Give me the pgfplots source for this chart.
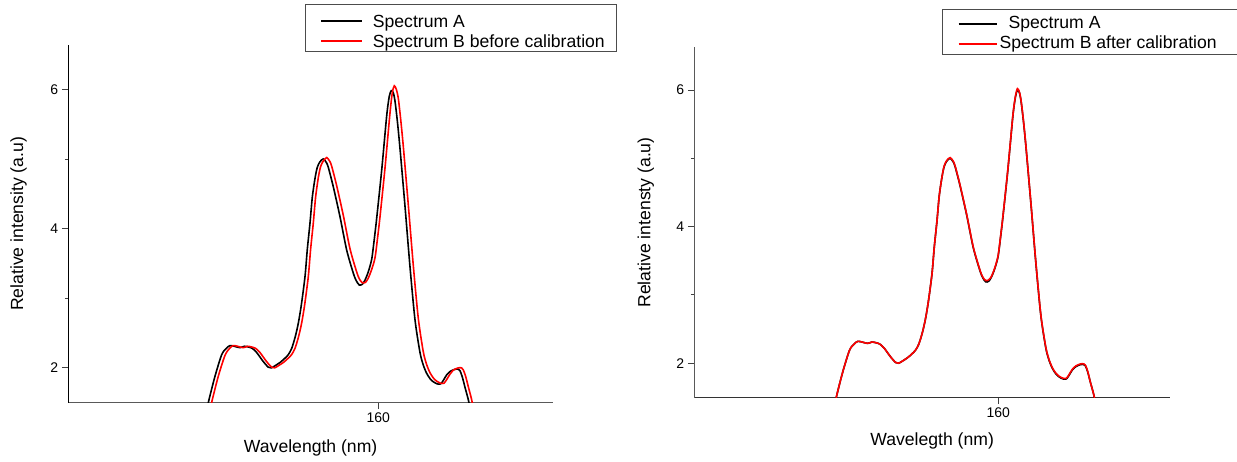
\documentclass[border=0pt]{standalone}
\usepackage{fontspec}
\setmainfont{Liberation Sans}
\usepackage{pgfplots}
\pgfplotsset{compat=1.18}

\newcommand\labelfont{\fontsize{17.6pt}{20pt}\selectfont}
\newcommand\tickfont{\fontsize{14pt}{16pt}\selectfont}

% Spectrum A (reference spectrum)
\pgfplotstableread{
x y
142.60 1.20
143.00 1.50
143.67 1.88
144.34 2.19
144.80 2.28
145.17 2.32
145.60 2.31
146.17 2.29
146.60 2.31
147.00 2.30
147.40 2.28
147.84 2.22
148.50 2.09
149.00 2.01
149.30 2.00
149.67 2.03
150.20 2.08
150.67 2.14
151.00 2.19
151.34 2.28
151.70 2.45
152.00 2.64
152.30 2.90
152.67 3.31
152.90 3.70
153.17 4.08
153.40 4.45
153.67 4.72
153.90 4.88
154.17 4.96
154.50 5.00
154.80 4.95
155.00 4.88
155.50 4.60
156.17 4.17
156.84 3.69
157.50 3.36
157.80 3.25
158.10 3.19
158.40 3.20
158.67 3.26
159.00 3.38
159.34 3.56
159.60 3.85
159.84 4.15
160.34 4.84
160.84 5.62
161.10 5.90
161.30 5.98
161.50 5.95
161.67 5.83
161.90 5.55
162.17 5.15
162.67 4.32
163.17 3.45
163.67 2.69
164.17 2.22
164.50 2.04
164.84 1.92
165.20 1.84
165.50 1.80
165.90 1.77
166.24 1.77
166.50 1.82
166.84 1.90
167.20 1.95
167.67 1.98
168.00 1.98
168.17 1.96
168.40 1.87
168.67 1.72
169.07 1.50
169.40 1.20
}\specA

% Spectrum B before calibration
\pgfplotstableread{
x y
142.90 1.20
143.33 1.50
144.00 1.88
144.67 2.18
145.13 2.28
145.50 2.32
145.93 2.31
146.50 2.29
146.93 2.31
147.33 2.30
147.73 2.28
148.17 2.22
148.83 2.09
149.33 2.01
149.63 2.00
150.00 2.03
150.53 2.08
151.00 2.14
151.33 2.19
151.67 2.28
152.03 2.45
152.33 2.64
152.63 2.90
153.00 3.31
153.23 3.70
153.50 4.08
153.73 4.45
154.00 4.73
154.23 4.89
154.50 4.97
154.84 5.02
155.13 4.97
155.33 4.90
155.83 4.62
156.50 4.19
157.17 3.71
157.83 3.38
158.13 3.27
158.43 3.22
158.73 3.23
159.00 3.29
159.33 3.41
159.67 3.58
159.93 3.87
160.17 4.17
160.67 4.87
161.17 5.66
161.40 5.95
161.60 6.05
161.80 6.00
162.00 5.87
162.23 5.58
162.50 5.18
163.00 4.34
163.50 3.47
164.00 2.71
164.50 2.23
164.83 2.05
165.17 1.93
165.53 1.85
165.83 1.81
166.23 1.78
166.57 1.78
166.83 1.83
167.17 1.91
167.53 1.97
168.00 2.00
168.33 2.00
168.50 1.97
168.73 1.88
169.00 1.73
169.40 1.50
169.70 1.20
}\specBbefore

% Spectrum A, second measurement window
\pgfplotstableread{
x y
143.23 1.20
143.63 1.50
144.30 1.88
144.97 2.19
145.43 2.28
145.80 2.32
146.23 2.31
146.80 2.29
147.23 2.31
147.63 2.30
148.03 2.28
148.47 2.22
149.13 2.09
149.63 2.01
149.93 2.00
150.30 2.03
150.83 2.08
151.30 2.14
151.63 2.19
151.97 2.28
152.33 2.45
152.63 2.64
152.93 2.90
153.30 3.31
153.53 3.70
153.80 4.08
154.03 4.45
154.30 4.72
154.53 4.88
154.80 4.96
155.13 5.00
155.43 4.95
155.63 4.88
156.13 4.60
156.80 4.17
157.47 3.69
158.13 3.36
158.43 3.25
158.73 3.19
159.03 3.20
159.30 3.26
159.63 3.38
159.97 3.56
160.23 3.85
160.47 4.15
160.97 4.84
161.47 5.62
161.73 5.90
161.93 6.00
162.13 5.96
162.30 5.83
162.53 5.55
162.80 5.15
163.30 4.32
163.80 3.45
164.30 2.69
164.80 2.22
165.13 2.04
165.47 1.92
165.83 1.84
166.13 1.80
166.53 1.77
166.87 1.77
167.13 1.82
167.47 1.90
167.83 1.95
168.30 1.98
168.63 1.98
168.80 1.96
169.03 1.87
169.30 1.72
169.70 1.50
170.00 1.20
}\specAtwo

% Spectrum B after calibration
\pgfplotstableread{
x y
143.23 1.20
143.63 1.50
144.30 1.88
144.97 2.19
145.43 2.28
145.80 2.32
146.23 2.31
146.80 2.29
147.23 2.31
147.63 2.30
148.03 2.28
148.47 2.22
149.13 2.09
149.63 2.01
149.93 2.00
150.30 2.03
150.83 2.08
151.30 2.14
151.63 2.19
151.97 2.28
152.33 2.45
152.63 2.64
152.93 2.90
153.30 3.31
153.53 3.70
153.80 4.08
154.03 4.45
154.30 4.72
154.53 4.89
154.80 4.97
155.13 5.01
155.43 4.96
155.63 4.89
156.13 4.61
156.80 4.18
157.47 3.70
158.13 3.37
158.43 3.26
158.73 3.21
159.03 3.22
159.30 3.27
159.63 3.39
159.97 3.57
160.23 3.86
160.47 4.16
160.97 4.85
161.47 5.63
161.73 5.91
161.93 6.02
162.13 5.97
162.30 5.84
162.53 5.56
162.80 5.16
163.30 4.33
163.80 3.46
164.30 2.70
164.80 2.23
165.13 2.05
165.47 1.93
165.83 1.85
166.13 1.81
166.53 1.78
166.87 1.78
167.13 1.83
167.47 1.91
167.83 1.96
168.30 1.99
168.63 1.99
168.80 1.97
169.03 1.88
169.30 1.72
169.70 1.50
170.00 1.20
}\specBafter

\pgfplotsset{
  spectrum/.style={
    scale only axis,
    axis x line*=bottom,
    axis y line*=left,
    tick align=outside,
    xtick={160},
    ytick={2,4,6},
    minor ytick={3,5},
    major tick length=6.5pt,
    minor tick length=3.5pt,
    tick style={black!75, line width=0.8pt},
    ticklabel style={font=\tickfont},
    /pgf/number format/assume math mode=true,
    label style={font=\labelfont},
    legend cell align=left,
  },
  lineA/.style={black, line width=1.6pt, smooth, tension=0.45},
  lineB/.style={red, line width=1.6pt, smooth, tension=0.45},
}

\begin{document}
\begin{tikzpicture}
\useasboundingbox (0,0) rectangle (1237pt,462pt);

% Before calibration
\begin{axis}[
  spectrum,
  at={(68.3pt,59.3pt)}, anchor=south west,
  width=484.7pt, height=357.7pt,
  xmin=129.0, xmax=177.47,
  ymin=1.5, ymax=6.636,
  x axis line style={black!65, line width=1pt},
  y axis line style={black, line width=1pt},
  xlabel={Wavelength (nm)},
  ylabel={Relative intensity (a.u)},
  xlabel style={at={(axis description cs:0.5,-0.1266)}, anchor=center},
  ylabel style={at={(axis description cs:-0.1025,0.5)}, anchor=center},
  legend style={
    at={(axis description cs:0.4884,1.1146)}, anchor=north west,
    draw=black!70, line width=0.8pt, fill=white,
    inner xsep=11.7pt, inner ysep=2pt,
    row sep=-3pt, column sep=10pt,
    nodes={inner sep=0pt, text height=20.7pt, text depth=2.3pt, font=\labelfont},
  },
]
\addplot[lineA, forget plot] table {\specA};
\addplot[lineB, forget plot] table {\specBbefore};
\addlegendimage{legend image code/.code={
  \path[draw=none] (-4pt,0pt) -- (41pt,0pt);
  \draw[black, line width=1.6pt] (0pt,-3.35pt) -- (41pt,-3.35pt);}}
\addlegendentry{Spectrum A}
\addlegendimage{legend image code/.code={
  \path[draw=none] (-4pt,0pt) -- (41pt,0pt);
  \draw[red, line width=1.6pt] (0pt,-3.35pt) -- (41pt,-3.35pt);}}
\addlegendentry{Spectrum B before calibration}
\end{axis}

% After calibration
\begin{axis}[
  spectrum,
  at={(694.3pt,64.3pt)}, anchor=south west,
  width=475.7pt, height=350.4pt,
  xmin=129.29, xmax=177.34,
  ymin=1.495, ymax=6.625,
  x axis line style={black!80, line width=1pt},
  y axis line style={black!65, line width=1pt},
  xlabel={Wavelegth (nm)},
  ylabel={Relative intensty (a.u)},
  xlabel style={at={(axis description cs:0.5,-0.1236)}, anchor=center},
  ylabel style={at={(axis description cs:-0.102,0.5)}, anchor=center},
  legend style={
    at={(axis description cs:0.520,1.1085)}, anchor=north west,
    draw=black!70, line width=0.8pt,
    inner xsep=12.6pt, inner ysep=2pt,
    row sep=-1pt, column sep=10pt,
    nodes={inner sep=0pt, text height=17pt, text depth=4pt, font=\labelfont},
  },
]
\addplot[lineA, forget plot] table {\specAtwo};
\addplot[lineB, forget plot] table {\specBafter};
\addlegendimage{legend image code/.code={
  \path[draw=none] (-4pt,0pt) -- (38.4pt,0pt);
  \draw[black, line width=1.8pt] (0pt,-1.5pt) -- (38.4pt,-1.5pt);}}
\addlegendentry{\hspace*{0.6pt}Spectrum A}
\addlegendimage{legend image code/.code={
  \path[draw=none] (-4pt,0pt) -- (38.4pt,0pt);
  \draw[red, line width=1.8pt] (0pt,-1.5pt) -- (38.4pt,-1.5pt);}}
\addlegendentry{\hspace*{-8.4pt}Spectrum B after calibration\hspace*{20pt}}
\end{axis}
\end{tikzpicture}
\end{document}
